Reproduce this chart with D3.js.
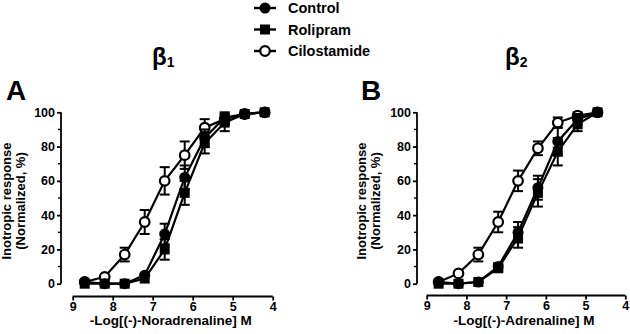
<!DOCTYPE html>
<html>
<head>
<meta charset="utf-8">
<script src="https://cdn.jsdelivr.net/npm/d3@7"></script>
<style>
  body { margin: 0; background: #fff; }
  svg { display: block; font-family: "Liberation Sans", Arial, sans-serif; font-weight: bold; }
</style>
</head>
<body>
<div id="chart"></div>
<script>
// -log concentrations
const dosesA = [8.7, 8.2, 7.7, 7.2, 6.7, 6.2, 5.7, 5.2, 4.7, 4.2];
const dosesB = [8.7, 8.2, 7.7, 7.2, 6.7, 6.2, 5.7, 5.2, 4.7];

// panel A (beta1, noradrenaline)
const controlA = [1, 0, 0, 5, 29, 62, 85, 97, 99, 100];
const controlErrA = [1, 0, 1, 1, 6, 7, 5, 3, 1, 1];
const rolipramA = [0, 0, 0, 3, 20, 53, 82, 94, 99, 100];
const rolipramErrA = [0, 0, 0, 1, 6, 7, 6, 5, 1, 1];
const cilostA = [1, 4, 17, 36, 60, 75, 91, 96, 99, 100];
const cilostErrA = [1, 1, 4, 7, 8, 8, 5, 3, 1, 1];

// panel B (beta2, adrenaline)
const controlB = [1, 0, 1, 10, 30, 56, 83, 96, 100];
const controlErrB = [1, 0, 1, 2, 6, 7, 8, 3, 1];
const rolipramB = [0, 0, 1, 9, 27, 53, 77, 93, 100];
const rolipramErrB = [0, 0, 1, 2, 6, 8, 8, 4, 1];
const cilostB = [1, 6, 17, 36, 60, 79, 94, 98, 100];
const cilostErrB = [1, 1, 4, 6, 6, 4, 3, 2, 1];

const seriesNames = ["Control", "Rolipram", "Cilostamide"];
const xTicks = [9, 8, 7, 6, 5, 4];
const yTicks = [0, 20, 40, 60, 80, 100];

const W = 630, H = 334;
const FONT = '"Liberation Sans", Arial, sans-serif';
const svg = d3.select("#chart").append("svg").attr("width", W).attr("height", H);

function styleAxis(a) {
  a.attr("font-family", FONT).attr("font-size", 12.5).attr("font-weight", "bold");
  a.select(".domain").attr("stroke-width", 1.8);
  a.selectAll(".tick line").attr("stroke-width", 1.8);
  a.selectAll(".tick text").attr("fill", "#000");
}

function panel(opts) {
  const g = svg.append("g");
  const x = d3.scaleLinear().domain([9, 4]).range([opts.x0, opts.x1]);
  const y = d3.scaleLinear().domain([0, 100]).range([283.7, 112.3]);

  // y axis
  const ya = g.append("g").attr("transform", `translate(${opts.yAxisX},0)`)
    .call(d3.axisLeft(y).tickValues(yTicks).tickFormat(d3.format("d")).tickSize(4).tickPadding(2));
  styleAxis(ya);
  ya.select(".domain").attr("d", `M0,${y(0)}V${y(100)}`);
  ya.selectAll(".minor").data(d3.range(10, 100, 20)).join("line")
    .attr("x1", 0).attr("x2", -3).attr("y1", d => y(d)).attr("y2", d => y(d))
    .attr("stroke", "#000").attr("stroke-width", 1.4);

  // x axis
  const xa = g.append("g").attr("transform", `translate(0,${opts.xAxisY})`)
    .call(d3.axisBottom(x).tickValues(xTicks).tickFormat(d3.format("d")).tickSize(4).tickPadding(2));
  styleAxis(xa);
  xa.select(".domain").attr("d", `M${x(9)},0H${x(4)}`);

  // titles
  g.append("text").attr("x", opts.letterX).attr("y", 100).attr("font-size", 28)
    .text(opts.letter);
  g.append("text").attr("x", opts.titleX).attr("y", 65).attr("font-size", 24)
    .text("β").append("tspan").attr("font-size", 14).attr("dy", 2).text(opts.sub);
  const mid = (x(9) + x(4)) / 2 - 2;
  g.append("text").attr("x", mid).attr("y", 325).attr("font-size", 13.5)
    .attr("text-anchor", "middle").text(opts.xlabel);
  const yc = (y(0) + y(100)) / 2 + 3;
  g.append("text").attr("transform", `translate(${opts.ylabX},${yc}) rotate(-90)`)
    .attr("font-size", 13).attr("text-anchor", "middle").text("Inotropic response");
  g.append("text").attr("transform", `translate(${opts.ylabX + 14},${yc}) rotate(-90)`)
    .attr("font-size", 13).attr("text-anchor", "middle").text("(Normalized, %)");

  const line = d3.line().x(d => x(d[0])).y(d => y(d[1]));
  // draw order: cilostamide, rolipram, control
  const order = [2, 1, 0];
  order.forEach(k => {
    const s = opts.series[k];
    const pts = opts.doses.map((d, i) => [d, s.v[i], s.e[i]]);
    const sg = g.append("g");
    sg.append("path").datum(pts).attr("d", line).attr("fill", "none")
      .attr("stroke", "#000").attr("stroke-width", 2.2);
    const eb = sg.selectAll(".eb").data(pts.filter(p => p[2] > 1.5)).join("g");
    eb.append("line").attr("x1", p => x(p[0])).attr("x2", p => x(p[0]))
      .attr("y1", p => y(p[1] - p[2])).attr("y2", p => y(p[1] + p[2]))
      .attr("stroke", "#000").attr("stroke-width", 2);
    [-1, 1].forEach(sgn => {
      eb.append("line").attr("x1", p => x(p[0]) - 5).attr("x2", p => x(p[0]) + 5)
        .attr("y1", p => y(p[1] + sgn * p[2])).attr("y2", p => y(p[1] + sgn * p[2]))
        .attr("stroke", "#000").attr("stroke-width", 2);
    });
    drawMarkers(sg, pts.map(p => [x(p[0]), y(p[1])]), k);
  });
}

function drawMarkers(sel, pts, k) {
  if (k === 1) {
    sel.selectAll(".m").data(pts).join("rect")
      .attr("x", p => p[0] - 5).attr("y", p => p[1] - 5)
      .attr("width", 10).attr("height", 10).attr("fill", "#000");
  } else {
    sel.selectAll(".m").data(pts).join("circle")
      .attr("cx", p => p[0]).attr("cy", p => p[1]).attr("r", k === 0 ? 5.5 : 4.8)
      .attr("fill", k === 0 ? "#000" : "#fff")
      .attr("stroke", "#000").attr("stroke-width", k === 0 ? 0 : 2.2);
  }
}

panel({
  x0: 72.7, x1: 272.7, yAxisX: 61, xAxisY: 296.5,
  doses: dosesA, letter: "A", letterX: 6, titleX: 152, sub: "1", ylabX: 11,
  xlabel: "-Log[(-)-Noradrenaline] M",
  series: [{ v: controlA, e: controlErrA }, { v: rolipramA, e: rolipramErrA }, { v: cilostA, e: cilostErrA }]
});
panel({
  x0: 426.7, x1: 625.3, yAxisX: 417, xAxisY: 295.5,
  doses: dosesB, letter: "B", letterX: 361, titleX: 505, sub: "2", ylabX: 366,
  xlabel: "-Log[(-)-Adrenaline] M",
  series: [{ v: controlB, e: controlErrB }, { v: rolipramB, e: rolipramErrB }, { v: cilostB, e: cilostErrB }]
});

// legend
const leg = svg.append("g");
seriesNames.forEach((name, k) => {
  const cy = 8 + k * 21.5;
  const row = leg.append("g");
  row.append("line").attr("x1", 254).attr("x2", 276).attr("y1", cy).attr("y2", cy)
    .attr("stroke", "#000").attr("stroke-width", 2.4);
  drawMarkers(row, [[265, cy]], k);
  row.append("text").attr("x", 288).attr("y", cy + 5).attr("font-size", 14.5).text(name);
});
</script>
</body>
</html>
